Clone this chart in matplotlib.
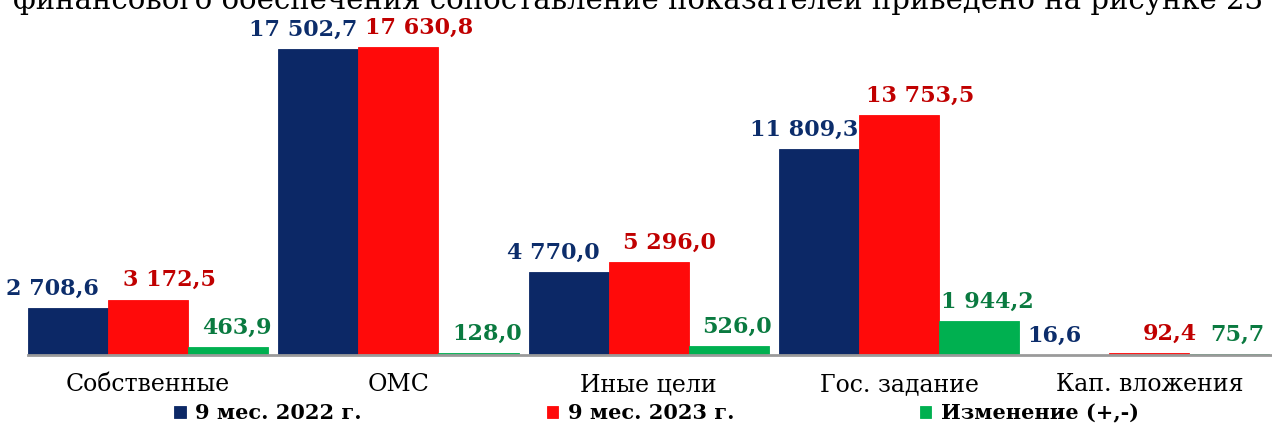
import matplotlib.pyplot as plt
import numpy as np

plt.rcParams['font.family'] = ['DejaVu Serif']

categories = ['Собственные', 'ОМС', 'Иные цели', 'Гос. задание', 'Кап. вложения']
v2022 = [2708.6, 17502.7, 4770.0, 11809.3, 16.6]
v2023 = [3172.5, 17630.8, 5296.0, 13753.5, 92.4]
delta = [463.9, 128.0, 526.0, 1944.2, 75.7]
series_names = ['9 мес. 2022 г.', '9 мес. 2023 г.', 'Изменение (+,-)']
top_line = 'финансового обеспечения сопоставление показателей приведено на рисунке 23'

bar_colors = ['#0c2866', '#ff0a0a', '#00b050']
label_colors = ['#0c2d6b', '#c00000', '#0a7a40']
label_shift = [-11, 15, 6]  # points, to mimic the original placement

fig = plt.figure(figsize=(12.72, 4.25), dpi=100)
ax = fig.add_axes([28 / 1272, 70 / 425, 1 - 28 / 1272, (355 - 32) / 425])

x = np.arange(len(categories))
bw = 0.32
series = [v2022, v2023, delta]
handles = []
for i, vals in enumerate(series):
    pos = x + (i - 1) * bw
    b = ax.bar(pos, vals, bw, color=bar_colors[i], edgecolor=bar_colors[i],
               linewidth=0.6, label=series_names[i], zorder=2)
    handles.append(b)
    for p, v in zip(pos, vals):
        txt = f'{v:,.1f}'.replace(',', ' ').replace('.', ',')
        ax.annotate(txt, (p, v), xytext=(label_shift[i], 6), textcoords='offset points',
                    ha='center', va='bottom', fontsize=16, fontweight='bold',
                    color=label_colors[i])

ax.set_xlim(-0.48, 4.49)
ax.set_ylim(0, 18490)
ax.set_yticks([])
ax.set_xticks(x)
ax.set_xticklabels(categories, fontsize=17)
ax.tick_params(axis='x', length=0, pad=13)
for s in ['top', 'right', 'left']:
    ax.spines[s].set_visible(False)
ax.spines['bottom'].set_color('#9a9a9a')
ax.spines['bottom'].set_linewidth(2)

fig.legend(handles=handles, loc='lower center', bbox_to_anchor=(0.516, -0.04), ncol=3,
           frameon=False, prop={'size': 15, 'weight': 'bold'}, handlelength=0.55,
           handleheight=0.55, handletextpad=0.45, columnspacing=8.9)

# cut-off line of the surrounding document text
fig.text(0.502, 1 - 9 / 425, top_line, ha='center', va='baseline', fontsize=21)

fig.savefig('out.png', dpi=100)
